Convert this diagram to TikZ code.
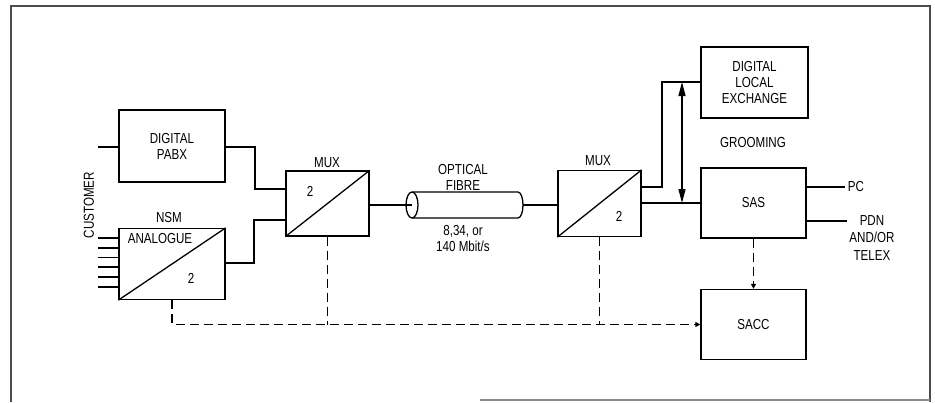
\documentclass[tikz,border=0pt]{standalone}
\usepackage{fontspec}
\setmainfont{Liberation Sans}[FakeStretch=0.8]
\usetikzlibrary{arrows.meta}
\begin{document}
\begin{tikzpicture}[x=1pt,y=-1pt,
  txt/.style={font=\fontsize{14.5}{16}\selectfont, inner sep=0pt, align=center},
  blk/.style={draw, line width=1.3pt, inner sep=0pt, align=center, font=\fontsize{14.5}{16}\selectfont},
  wire/.style={line width=1.3pt},
  ctl/.style={line width=1.3pt, dash pattern=on 9pt off 5pt},
  frm/.style={draw=black!70, line width=1.6pt},
  dblarrow/.style={wire, {Triangle[length=14pt,width=7pt]}-{Triangle[length=14pt,width=7pt]}},
  ctlarrow/.style={ctl, -{Triangle[length=5pt,width=5pt]}}]
\useasboundingbox (0,0) rectangle (935,402);
% frame
\draw[frm] (11,402) -- (11,6) -- (930,6) -- (930,402);
\draw[frm, draw=black!45] (480,400) -- (930,400);

% blocks
\node[blk, minimum width=106pt, minimum height=72pt] (pabx) at (172,146) {DIGITAL\\PABX};
\node[blk, minimum width=106pt, minimum height=71pt] (nsm) at (172,264) {};
\draw[wire] (nsm.south west) -- (nsm.north east);
\node[blk, minimum width=83pt, minimum height=65pt] (mux1) at (327.5,203.5) {};
\draw[wire] (mux1.south west) -- (mux1.north east);
\node[blk, minimum width=83pt, minimum height=66pt] (mux2) at (599.5,203.5) {};
\draw[wire] (mux2.south west) -- (mux2.north east);
\node[blk, minimum width=107pt, minimum height=71pt] (dle) at (754.5,82.5) {DIGITAL\\LOCAL\\EXCHANGE};
\node[blk, minimum width=105pt, minimum height=70pt] (sas) at (753.5,203) {SAS};
\node[blk, minimum width=105pt, minimum height=70pt] (sacc) at (753.5,324.5) {SACC};

% labels
\node[txt, rotate=90] (cust) at (89,205) {CUSTOMER};
\node[txt] (nsmlbl) at (169,218) {NSM};
\node[txt] (analbl) at (160,239) {ANALOGUE};
\node[txt] (nsm2) at (191,278) {2};
\node[txt] (mux1lbl) at (327,163) {MUX};
\node[txt] (mux1two) at (310,191) {2};
\node[txt] (mux2lbl) at (598,161) {MUX};
\node[txt] (mux2two) at (619,216) {2};
\node[txt] (optlbl) at (463,177) {OPTICAL\\FIBRE};
\node[txt] (ratelbl) at (463,239) {8,34, or\\140 Mbit/s};
\node[txt] (groom) at (753,143) {GROOMING};
\node[txt] (pc) at (856,187) {PC};
\node[txt] (pdn) at (872,238) {PDN\\[1.5pt]AND/OR\\[1.5pt]TELEX};

% customer inputs
\coordinate (pin) at (98,147);
\draw[wire] (pin) -- (pin -| pabx.west);
\foreach \yy in {238,248,257.5,267,277,287}{
  \draw[wire] (98,\yy) -- (119,\yy);
}

% PABX and NSM to MUX1
\coordinate (pa1) at (255,147);
\coordinate (pa2) at (255,189);
\draw[wire] (pabx.east |- pin) -- (pa1) -- (pa2) -- (pa2 -| mux1.west);
\coordinate (na1) at (254,263);
\coordinate (na2) at (254,220);
\draw[wire] (nsm.east |- na1) -- (na1) -- (na2) -- (na2 -| mux1.west);

% optical fibre
\coordinate (fibL) at (412,205);
\coordinate (fibR) at (523,205);
\draw[wire] (mux1.east |- fibL) -- (fibL);
\draw[wire] (fibL) ellipse [x radius=6pt, y radius=13pt];
\draw[wire] (412,192) -- (518,192) arc[start angle=90, end angle=-90, x radius=5pt, y radius=13pt] -- (412,218);
\draw[wire] (fibR) -- (fibR -| mux2.west);

% MUX2 outputs
\coordinate (mo1) at (662,187);
\coordinate (mo2) at (662,82);
\draw[wire] (mux2.east |- mo1) -- (mo1) -- (mo2) -- (mo2 -| dle.west);
\draw[wire] (mux2.east |- sas.west) -- (sas.west);
\coordinate (at) at (682,82);
\coordinate (ab) at (682,203);
\draw[dblarrow] (at) -- (ab);

% SAS outputs
\coordinate (pce) at (845,187);
\draw[wire] (sas.east |- pce) -- (pce);
\coordinate (pdne) at (847,221);
\draw[wire] (sas.east |- pdne) -- (pdne);

% control (dashed)
\draw[ctlarrow] (sas.south) -- (sacc.north);
\draw[ctlarrow] (nsm.south) -- (nsm.south |- sacc.west) -- (sacc.west);
\draw[ctl] (mux1.south) -- (mux1.south |- sacc.west);
\draw[ctl] (mux2.south) -- (mux2.south |- sacc.west);
\end{tikzpicture}
\end{document}
